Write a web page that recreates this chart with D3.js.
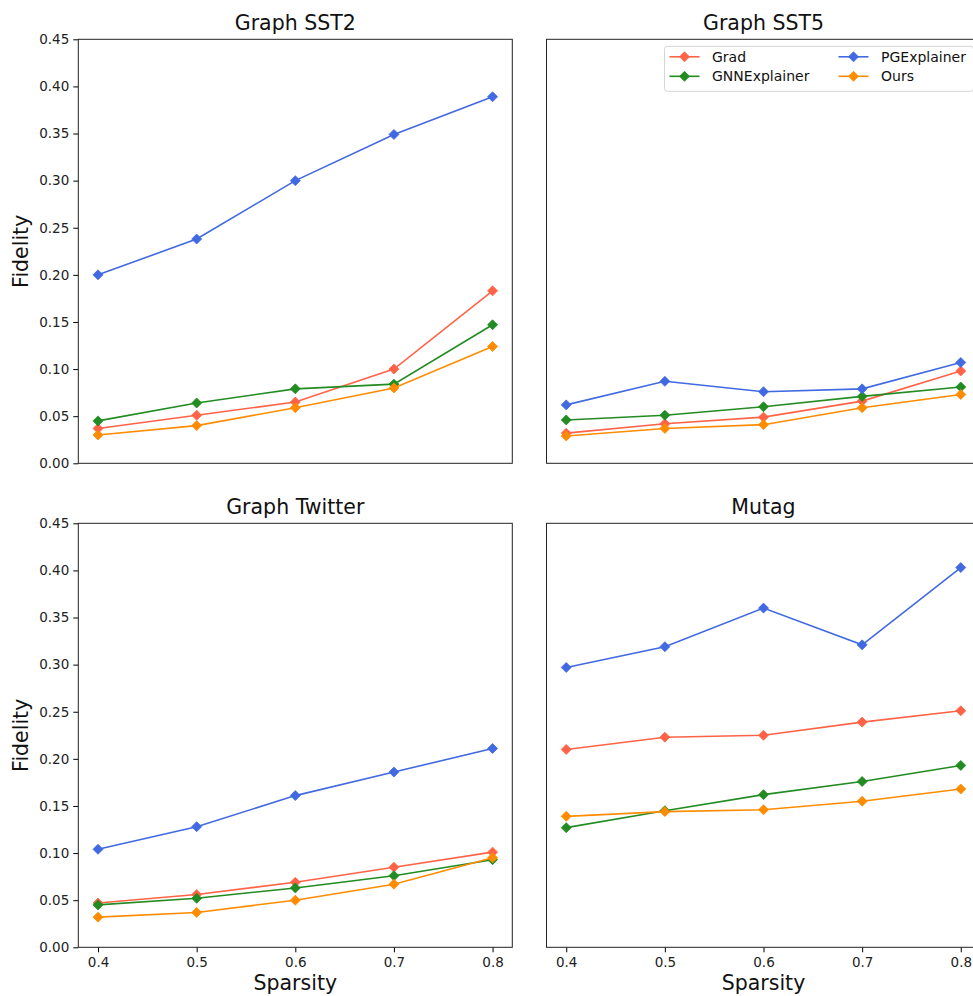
<!DOCTYPE html>
<html>
<head>
<meta charset="utf-8">
<script src="https://cdn.jsdelivr.net/npm/d3@7"></script>
<style>
  html, body { margin: 0; padding: 0; background: #fff; }
  svg { display: block; font-family: "DejaVu Sans", sans-serif; }
</style>
</head>
<body>
<svg id="chart" width="973" height="996"></svg>
<script>
// Sparsity levels shared by every panel
const sparsity = [0.4, 0.5, 0.6, 0.7, 0.8];
const methods = ["Grad", "GNNExplainer", "PGExplainer", "Ours"];
const colors = ["#ff6347", "#228b22", "#4169e1", "#ff8c00"];
const yTicks = [0, 0.05, 0.10, 0.15, 0.20, 0.25, 0.30, 0.35, 0.40, 0.45];
const xTicks = [0.4, 0.5, 0.6, 0.7, 0.8];

// Fidelity per dataset, one array per method
const sst2Grad = [0.037, 0.051, 0.065, 0.100, 0.183];
const sst2GNN  = [0.045, 0.064, 0.079, 0.084, 0.147];
const sst2PG   = [0.200, 0.238, 0.300, 0.349, 0.389];
const sst2Ours = [0.030, 0.040, 0.059, 0.080, 0.124];

const sst5Grad = [0.032, 0.042, 0.049, 0.066, 0.098];
const sst5GNN  = [0.046, 0.051, 0.060, 0.071, 0.081];
const sst5PG   = [0.062, 0.087, 0.076, 0.079, 0.107];
const sst5Ours = [0.029, 0.037, 0.041, 0.059, 0.073];

const twGrad = [0.047, 0.056, 0.069, 0.085, 0.101];
const twGNN  = [0.045, 0.052, 0.063, 0.076, 0.093];
const twPG   = [0.104, 0.128, 0.161, 0.186, 0.211];
const twOurs = [0.032, 0.037, 0.050, 0.067, 0.095];

const mutGrad = [0.210, 0.223, 0.225, 0.239, 0.251];
const mutGNN  = [0.127, 0.145, 0.162, 0.176, 0.193];
const mutPG   = [0.297, 0.319, 0.360, 0.321, 0.403];
const mutOurs = [0.139, 0.144, 0.146, 0.155, 0.168];

const panels = [
  { title: "Graph SST2",    series: [sst2Grad, sst2GNN, sst2PG, sst2Ours], row: 0, col: 0 },
  { title: "Graph SST5",    series: [sst5Grad, sst5GNN, sst5PG, sst5Ours], row: 0, col: 1, legend: true },
  { title: "Graph Twitter", series: [twGrad, twGNN, twPG, twOurs],         row: 1, col: 0 },
  { title: "Mutag",         series: [mutGrad, mutGNN, mutPG, mutOurs],     row: 1, col: 1 }
];

const svg = d3.select("#chart");
const axW = 434, axH = 424;
const colX = [78.3, 546.5];
const rowY = [39.3, 523.3];

const diamond = (s) => `M0,${-s}L${s},0L0,${s}L${-s},0Z`;

panels.forEach(p => {
  const x0 = colX[p.col], y0 = rowY[p.row];
  const g = svg.append("g").attr("transform", `translate(${x0},${y0})`);

  const x = d3.scaleLinear().domain([0.38, 0.82]).range([0, axW]);
  const y = d3.scaleLinear().domain([0, 0.45]).range([axH, 0]);

  // Tick labels only on the outer panels (shared axes)
  if (p.col === 0) {
    const ya = g.append("g").call(d3.axisLeft(y).tickValues(yTicks).tickFormat(d3.format(".2f")).tickSize(5).tickPadding(4));
    ya.select(".domain").remove();
    ya.selectAll("line").attr("stroke", "#000").attr("stroke-width", 1);
    ya.selectAll("text").attr("fill", "#222").style("font-size", "13.5px").style("font-family", "DejaVu Sans");
    g.append("text")
      .attr("transform", `translate(${-50},${axH / 2}) rotate(-90)`)
      .attr("text-anchor", "middle")
      .style("font-size", "20.5px")
      .attr("fill", "#111")
      .text("Fidelity");
  }
  if (p.row === 1) {
    const xa = g.append("g").attr("transform", `translate(0,${axH})`)
      .call(d3.axisBottom(x).tickValues(xTicks).tickFormat(d3.format(".1f")).tickSize(5).tickPadding(5));
    xa.select(".domain").remove();
    xa.selectAll("line").attr("stroke", "#000").attr("stroke-width", 1);
    xa.selectAll("text").attr("fill", "#222").style("font-size", "13.5px").style("font-family", "DejaVu Sans");
    g.append("text")
      .attr("x", axW / 2).attr("y", axH + 42.5)
      .attr("text-anchor", "middle")
      .style("font-size", "20.5px")
      .attr("fill", "#111")
      .text("Sparsity");
  }

  // Title
  g.append("text")
    .attr("x", axW / 2).attr("y", -9)
    .attr("text-anchor", "middle")
    .style("font-size", "20.5px")
    .attr("fill", "#111")
    .text(p.title);

  // Series
  const line = d3.line().x((d, i) => x(sparsity[i])).y(d => y(d));
  p.series.forEach((vals, k) => {
    g.append("path")
      .datum(vals)
      .attr("d", line)
      .attr("fill", "none")
      .attr("stroke", colors[k])
      .attr("stroke-width", 1.6);
    g.selectAll(null)
      .data(vals)
      .enter()
      .append("path")
      .attr("d", diamond(5))
      .attr("transform", (d, i) => `translate(${x(sparsity[i])},${y(d)})`)
      .attr("fill", colors[k])
      .attr("stroke", colors[k])
      .attr("stroke-width", 0.8);
  });

  // Frame
  g.append("rect")
    .attr("width", axW).attr("height", axH)
    .attr("fill", "none")
    .attr("stroke", "#222")
    .attr("stroke-width", 1);

  if (p.legend) {
    const lw = 309, lh = 45;
    const lg = g.append("g").attr("transform", `translate(${axW - 7 - lw},${7})`);
    lg.append("rect")
      .attr("width", lw).attr("height", lh)
      .attr("rx", 3)
      .attr("fill", "#fff").attr("fill-opacity", 0.8)
      .attr("stroke", "#d4d4d4").attr("stroke-width", 1);
    methods.forEach((m, k) => {
      const cx = k < 2 ? 5 : 174;
      const cy = k % 2 === 0 ? 10.5 : 30;
      const e = lg.append("g").attr("transform", `translate(${cx},${cy})`);
      e.append("line").attr("x1", 0).attr("x2", 30).attr("stroke", colors[k]).attr("stroke-width", 1.6);
      e.append("path").attr("d", diamond(5)).attr("transform", "translate(15,0)")
        .attr("fill", colors[k]).attr("stroke", colors[k]).attr("stroke-width", 0.8);
      e.append("text").attr("x", 42.5).attr("y", 5)
        .style("font-size", "14px").attr("fill", "#111").text(m);
    });
  }
});
</script>
</body>
</html>
